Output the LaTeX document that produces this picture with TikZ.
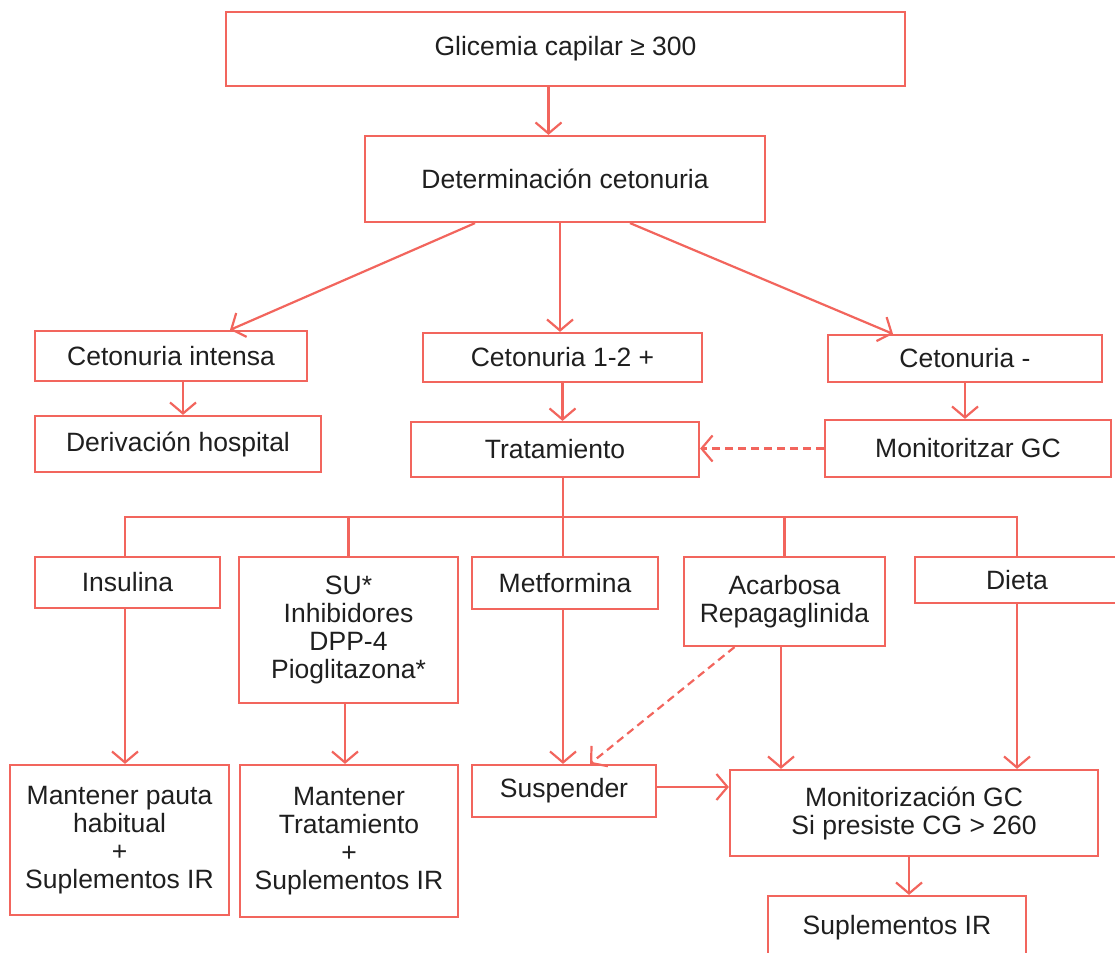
\documentclass[tikz,border=0pt]{standalone}
\usepackage{fontspec}
\setmainfont{Liberation Sans}
\usetikzlibrary{arrows.meta}
\definecolor{salmon}{HTML}{F2655D}
\begin{document}
\begin{tikzpicture}[x=1pt,y=-1pt,
  box/.style={draw=salmon,line width=2.2pt,rectangle,inner sep=0pt,align=center,
    font=\fontsize{26.5}{28}\selectfont,text=black!88},
  arr/.style={draw=salmon,line width=2.2pt,-{Straight Barb[length=11pt,width=26pt,line width=2.2pt]}},
  ln/.style={draw=salmon,line width=2.2pt},
  dsh/.style={arr,dash pattern=on 8pt off 5pt}]
\useasboundingbox (0,0) rectangle (1115,952);
\node[box,minimum width=679pt,minimum height=74pt] (g) at (565.5,49) {Glicemia capilar ≥ 300};
\node[box,minimum width=400pt,minimum height=86pt] (d) at (565,179) {Determinación cetonuria};
\node[box,minimum width=272pt,minimum height=50pt] (ci) at (171,356) {Cetonuria intensa};
\node[box,minimum width=279pt,minimum height=49pt] (c12) at (562.5,357.5) {Cetonuria 1-2 +};
\node[box,minimum width=274pt,minimum height=47pt] (cm) at (965,358.5) {Cetonuria -};
\node[box,minimum width=286pt,minimum height=56pt] (dh) at (178,444) {Derivación hospital};
\node[box,minimum width=288pt,minimum height=55pt] (t) at (555,449.5) {Tratamiento};
\node[box,minimum width=286pt,minimum height=57pt] (mg) at (968,448.5) {Monitoritzar GC};
\node[box,minimum width=185pt,minimum height=51pt] (ins) at (127.5,582.5) {Insulina};
\node[box,minimum width=219pt,minimum height=146pt] (su) at (348.5,630) {SU*\\Inhibidores\\DPP-4\\Pioglitazona*};
\node[box,minimum width=186pt,minimum height=52pt] (met) at (565,583) {Metformina};
\node[box,minimum width=201pt,minimum height=89pt] (aca) at (784.5,601.5) {Acarbosa\\Repagaglinida};
\node[box,minimum width=204pt,minimum height=46pt] (die) at (1017,580) {Dieta};
\node[box,minimum width=219pt,minimum height=150pt] (mp) at (119.5,840) {Mantener pauta\\habitual\\+\\Suplementos IR};
\node[box,minimum width=218pt,minimum height=152pt] (mt) at (349,841) {Mantener\\Tratamiento\\+\\Suplementos IR};
\node[box,minimum width=184pt,minimum height=52pt] (sus) at (564,791) {Suspender};
\node[box,minimum width=368pt,minimum height=86pt] (mon) at (914,813) {Monitorización GC\\Si presiste CG > 260};
\node[box,minimum width=258pt,minimum height=64pt] (sir) at (897,928) {Suplementos IR};
% arrows
\draw[arr] ([xshift=-17pt]g.south) -- ([xshift=-17pt]g.south |- d.north);
\draw[arr] ([xshift=-90pt]d.south) -- ([xshift=59pt]ci.north);
\draw[arr] ([xshift=-5pt]d.south) -- ([xshift=-5pt]d.south |- c12.north);
\draw[arr] ([xshift=65pt]d.south) -- ([xshift=-72pt]cm.north);
\draw[arr] ([xshift=12pt]ci.south) -- ([xshift=12pt]ci.south |- dh.north);
\draw[arr] (c12.south) -- (c12.south |- t.north);
\draw[arr] (cm.south) -- (cm.south |- mg.north);
\draw[dsh] (mg.west) -- (mg.west -| t.east);
\coordinate (bus) at (563,517);
\draw[ln] (t.south -| bus) -- (bus);
\draw[ln] ([xshift=-2.5pt]ins.north) |- (bus) -| (die.north);
\draw[ln] (su.north) -- ++(0,-40);
\draw[ln] (met.north -| bus) -- (bus);
\draw[ln] (aca.north) -- ++(0,-40);
\draw[arr] ([xshift=-2.5pt]ins.south) -- ([xshift=-2.5pt]ins.south |- mp.north);
\draw[arr] ([xshift=-3.5pt]su.south) -- ([xshift=-3.5pt]su.south |- mt.north);
\draw[arr] (met.south -| bus) -- (sus.north -| bus);
\draw[dsh] ([xshift=-50pt]aca.south) -- ([xshift=26pt]sus.north);
\draw[arr] ([xshift=-3.5pt]aca.south) -- ([xshift=-3.5pt]aca.south |- mon.north);
\draw[arr] (die.south) -- (die.south |- mon.north);
\draw[arr] ([yshift=4pt]sus.east) -- ([yshift=4pt]sus.east -| mon.west);
\draw[arr] ([xshift=-5pt]mon.south) -- ([xshift=-5pt]mon.south |- sir.north);
\end{tikzpicture}
\end{document}
